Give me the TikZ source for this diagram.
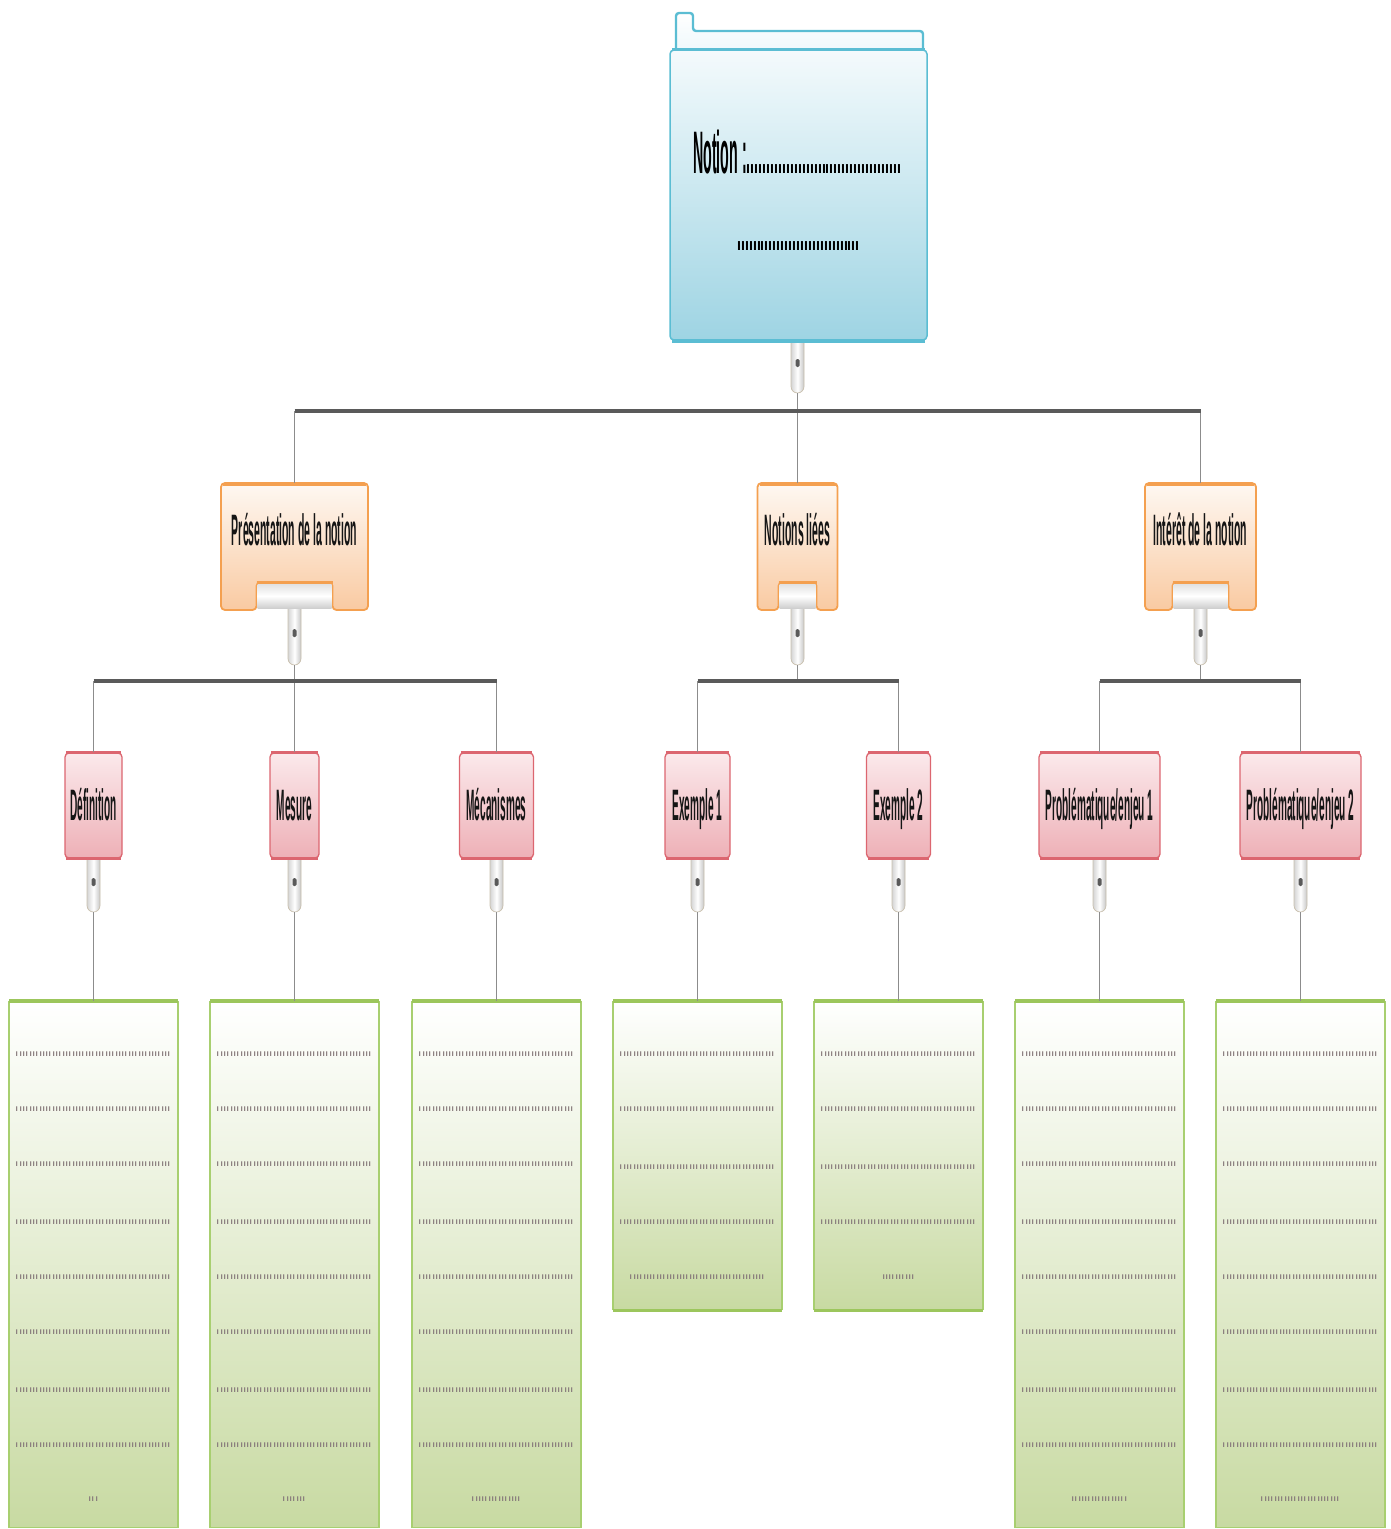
\documentclass[tikz,border=0pt]{standalone}
\usepackage{fontspec}
\setmainfont{Liberation Sans}
\usepackage{graphicx}
\usetikzlibrary{calc}

\definecolor{connc}{HTML}{8C8C8C}
\definecolor{barc}{HTML}{5A5A5A}
\definecolor{knobb}{HTML}{C9C0AE}
\definecolor{knobl}{HTML}{D5D5D5}
\definecolor{knobr}{HTML}{C6C6C6}
\definecolor{kdotc}{HTML}{5A5A5A}
\definecolor{blueB}{HTML}{5BBDD3}
\definecolor{blueT}{HTML}{F4FAFC}
\definecolor{blueBot}{HTML}{9ED4E3}
\definecolor{stripc}{HTML}{EEF8FB}
\definecolor{orB}{HTML}{F4A050}
\definecolor{orT}{HTML}{FEF8F2}
\definecolor{orBot}{HTML}{F9CAA2}
\definecolor{trayT}{HTML}{E2E2E2}
\definecolor{trayB}{HTML}{CFCFCF}
\definecolor{pkB}{HTML}{DC6670}
\definecolor{pkT}{HTML}{FBE9EB}
\definecolor{pkBot}{HTML}{EEB0B7}
\definecolor{gnB}{HTML}{A8CF70}
\definecolor{gnTop}{HTML}{9CC65C}
\definecolor{gnBot}{HTML}{C8DAA2}
\definecolor{dotc}{HTML}{86797A}
\definecolor{txt}{HTML}{151515}

\newcommand\sq[2][0.27]{\scalebox{#1}[1]{#2}}
\newcommand\rep[2]{\ifnum#1>0 #2\expandafter\rep\expandafter{\the\numexpr#1-1\relax}{#2}\fi}
\newcommand\dotrow[1]{\sq{\fontsize{44}{44}\selectfont\rep{#1}{.}}}

% orange box: name, cx, half width, recess half width, text
\newcommand\orangebox[5]{%
  \node[knob, minimum height=65] (#1k) at (#2,632.5) {};
  \node[kdot] (#1d) at (#2,633) {};
  \draw[obox] (#2-#3,610) -- (#2-#3,483) -- (#2+#3,483) -- (#2+#3,610) -- (#2+#4,610) -- (#2+#4,582) -- (#2-#4,582) -- (#2-#4,610) -- cycle;
  \shade[tray] (#2-#4+1,584) rectangle (#2+#4-1,608);
  \draw[oedge] (#2-#3+2,484.5) -- (#2+#3-2,484.5);
  \draw[oedge] (#2-#4,582.5) -- (#2+#4,582.5);
  \node[oframe, minimum width=2*#3] (#1) at (#2,546.5) {};
  \node[otext] (#1t) at (#2,545) {\sq[0.238]{#5}};
}
% pink box: name, cx, width, text
\newcommand\pinkbox[4]{%
  \node[knob, minimum height=62] (#1k) at (#2,881) {};
  \node[kdot] (#1d) at (#2,882) {};
  \node[pbox, minimum width=#3] (#1) at (#2,805.5) {};
  \draw[pedge] ([xshift=2]#1.north west) -- ([xshift=-2]#1.north east);
  \draw[pedge] ([xshift=2]#1.south west) -- ([xshift=-2]#1.south east);
  \node[ptext] (#1t) at (#2,820) {\sq[0.229]{#4}};
}
% tall green box: name, cx, dots in last row
\newcommand\tallgreen[3]{%
  \node[gbox, minimum height=526] (#1) at (#2,1001) {};
  \draw[gedge] ([xshift=1]#1.north west) -- ([xshift=-1]#1.north east);
  \foreach \yy [count=\i] in {1056,1111,1166,1224,1279,1334,1392,1447}
    \node[dotline] (#1r\i) at (#2,\yy) {\dotrow{47}};
  \node[dotline] (#1r9) at (#2,1501) {\dotrow{#3}};
}
% short green box: name, cx, dots in last row
\newcommand\shortgreen[3]{%
  \node[gbox, minimum height=308] (#1) at (#2,1001) {};
  \draw[gedge] ([xshift=1]#1.north west) -- ([xshift=-1]#1.north east);
  \draw[gedge] ([xshift=1]#1.south west) -- ([xshift=-1]#1.south east);
  \foreach \yy [count=\i] in {1056,1111,1169,1224}
    \node[dotline] (#1r\i) at (#2,\yy) {\dotrow{47}};
  \node[dotline] (#1r5) at (#2,1279) {\dotrow{#3}};
}

\begin{document}
\begin{tikzpicture}[x=1pt,y=-1pt,
  conn/.style={draw=connc, line width=1.1},
  bar/.style={draw=barc, line width=3.6},
  knob/.style={rectangle, rounded corners=6.5, minimum width=13, inner sep=0, draw=knobb, line width=0.7, left color=knobl, right color=knobr, middle color=white},
  kdot/.style={rectangle, rounded corners=1.5, minimum width=4, minimum height=8, inner sep=0, fill=kdotc},
  fbox/.style={rectangle, rounded corners=4, draw=blueB, line width=1.5, top color=blueT, bottom color=blueBot, inner sep=0, minimum width=257, minimum height=290},
  fedge/.style={draw=blueB, line width=3.5},
  strip/.style={draw=blueB, line width=2.4, top color=white, bottom color=stripc, rounded corners=3},
  htext/.style={font=\bfseries\fontsize{60}{60}\selectfont, text=black, inner sep=0},
  obox/.style={draw=orB, line width=1.8, top color=orT, bottom color=orBot, rounded corners=4},
  oedge/.style={draw=orB, line width=3.5},
  tray/.style={top color=trayT, bottom color=trayB, middle color=white},
  oframe/.style={rectangle, inner sep=0, minimum height=127},
  otext/.style={font=\bfseries\fontsize{44}{50}\selectfont, text=txt, inner sep=0, anchor=base},
  pbox/.style={rectangle, rounded corners=4, draw=pkB, line width=1.3, top color=pkT, bottom color=pkBot, inner sep=0, minimum height=105},
  pedge/.style={draw=pkB, line width=3},
  ptext/.style={font=\bfseries\fontsize{44}{50}\selectfont, text=txt, inner sep=0, anchor=base},
  gbox/.style={rectangle, draw=gnB, line width=1.3, top color=white, bottom color=gnBot, inner sep=0, minimum width=169, anchor=north},
  gedge/.style={draw=gnTop, line width=3.5},
  dotline/.style={text=dotc, inner sep=0, anchor=base}
]
\useasboundingbox (0,0) rectangle (1391,1529);

% ---- folder (root)
\draw[strip] (676,52) -- (676,13) -- (693,13) -- (693,31) -- (923,31) -- (923,52);
\node[knob, minimum height=63] (fk) at (797.5,361.5) {};
\node[kdot] (fkd) at (797.5,363) {};
\node[fbox] (folder) at (798.5,195) {};
\draw[fedge] ([xshift=3]folder.north west) -- ([xshift=-3]folder.north east);
\draw[fedge] ([xshift=3]folder.south west) -- ([xshift=-3]folder.south east);
\node[htext, anchor=base west] (ntitle) at (693,173) {\sq[0.237]{Notion :\rep{39}{.}}};
\node[htext, anchor=base] (nline) at (798.5,250) {\sq[0.237]{\rep{31}{.}}};

% ---- level 2
\orangebox{pres}{294.5}{73.5}{38}{Présentation de la notion}
\orangebox{nl}{797.5}{40}{19}{Notions liées}
\orangebox{int}{1200.5}{55.5}{28}{Intérêt de la notion}

% ---- level 3
\pinkbox{def}{93.5}{57}{Définition}
\pinkbox{mes}{294.5}{49}{Mesure}
\pinkbox{mec}{496.5}{74}{Mécanismes}
\pinkbox{exa}{697.5}{65}{Exemple 1}
\pinkbox{exb}{898.5}{64}{Exemple 2}
\pinkbox{pea}{1099.5}{121}{Problématique/enjeu 1}
\pinkbox{peb}{1300.5}{121}{Problématique/enjeu 2}

% ---- level 4
\tallgreen{ga}{93.5}{3}
\tallgreen{gb}{294.5}{7}
\tallgreen{gc}{496.5}{15}
\shortgreen{gd}{697.5}{41}
\shortgreen{ge}{898.5}{10}
\tallgreen{gf}{1099.5}{17}
\tallgreen{gg}{1300.5}{24}

% ---- connectors
\coordinate (barA) at (0,411);
\coordinate (barB) at (0,681);
\draw[conn] (fk.south) -- (nl.north);
\draw[conn] (pres.north) -- (pres.north |- barA);
\draw[conn] (int.north) -- (int.north |- barA);

\draw[conn] (presk.south) -- (mes.north);
\draw[conn] (def.north) -- (def.north |- barB);
\draw[conn] (mec.north) -- (mec.north |- barB);
\draw[conn] (nlk.south) -- (nlk.south |- barB);
\draw[conn] (exa.north) -- (exa.north |- barB);
\draw[conn] (exb.north) -- (exb.north |- barB);
\draw[conn] (intk.south) -- (intk.south |- barB);
\draw[conn] (pea.north) -- (pea.north |- barB);
\draw[conn] (peb.north) -- (peb.north |- barB);

\draw[conn] (defk.south) -- (ga.north);
\draw[conn] (mesk.south) -- (gb.north);
\draw[conn] (meck.south) -- (gc.north);
\draw[conn] (exak.south) -- (gd.north);
\draw[conn] (exbk.south) -- (ge.north);
\draw[conn] (peak.south) -- (gf.north);
\draw[conn] (pebk.south) -- (gg.north);

\draw[bar] (pres.north |- barA) -- (int.north |- barA);
\draw[bar] (def.north |- barB) -- (mec.north |- barB);
\draw[bar] (exa.north |- barB) -- (exb.north |- barB);
\draw[bar] (pea.north |- barB) -- (peb.north |- barB);
\end{tikzpicture}
\end{document}
